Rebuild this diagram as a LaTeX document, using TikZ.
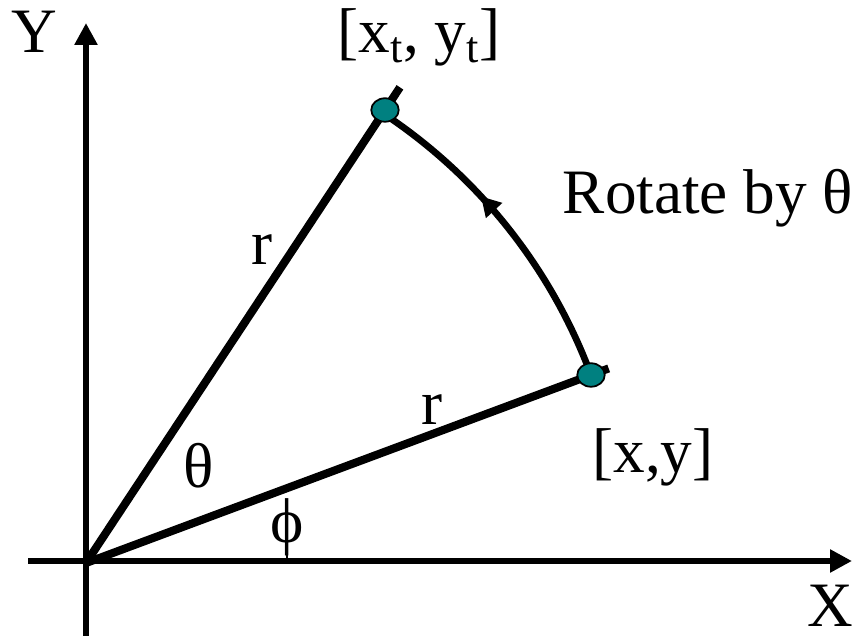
\documentclass[tikz,border=0pt]{standalone}
\usepackage{fontspec}
\setmainfont{Liberation Serif}
\usetikzlibrary{arrows.meta, calc, shapes.geometric, decorations.markings}
\definecolor{dotteal}{RGB}{0,128,128}

\begin{document}
\begin{tikzpicture}[x=0.02cm, y=0.02cm, font=\fontsize{36}{40}\selectfont,
    axis/.style={line width=3.8pt, -{Triangle[length=12.5pt, width=12.5pt]}},
    ray/.style={line width=4.6pt},
    turn/.style={line width=3.8pt, postaction=decorate,
      decoration={markings, mark=at position 0.62 with {\arrow{Triangle[length=11pt, width=12pt]}}}},
    pointdot/.style={ellipse, draw=black, line width=1pt, fill=dotteal,
      minimum width=0.55cm, minimum height=0.47cm, inner sep=0pt}]
    \useasboundingbox (0,0) rectangle (860,636);

    % Axes
    \coordinate (O) at (86,73);
    \coordinate (xstart) at (28,75);
    \coordinate (xend) at (852,75);
    \coordinate (ystart) at (86,0);
    \coordinate (yend) at (86,613);
    \draw[axis] (xstart) -- (xend);
    \draw[axis] (ystart) -- (yend);
    \node (ylabel) at (34,604) {Y};
    \node[inner sep=0pt] (xlabel) at (830,30) {X};

    % Rays
    \coordinate (P) at (591,261);
    \coordinate (Pt) at (385,526);
    \coordinate (Pend) at ($(O)!1.035!(P)$);
    \coordinate (Ptend) at ($(O)!1.05!(Pt)$);
    \draw[ray] (O) -- (Pend);
    \draw[ray] (O) -- (Ptend);

    % Rotation
    \draw[turn] (P) arc[start angle=20.4, end angle=56.6, radius=539];

    % Points
    \node[pointdot] (p) at (P) {};
    \node[pointdot] (pt) at (Pt) {};

    % Labels
    \node[anchor=base] (ptlabel) at (419,583) {[x\textsubscript{t}, y\textsubscript{t}]};
    \node[anchor=base] (plabel) at (653,163) {[x,y]};
    \node[anchor=base] (rotlabel) at (708,422) {Rotate by θ};
    \node[anchor=base] (rupper) at (262,371) {r};
    \node[anchor=base] (rlower) at (432,211) {r};
    \node (thetalabel) at (199,170) {θ};
    \draw[line width=1.2pt] (287,75) -- (287,136);
    \node (philabel) at (287,109) {ϕ};
\end{tikzpicture}
\end{document}
